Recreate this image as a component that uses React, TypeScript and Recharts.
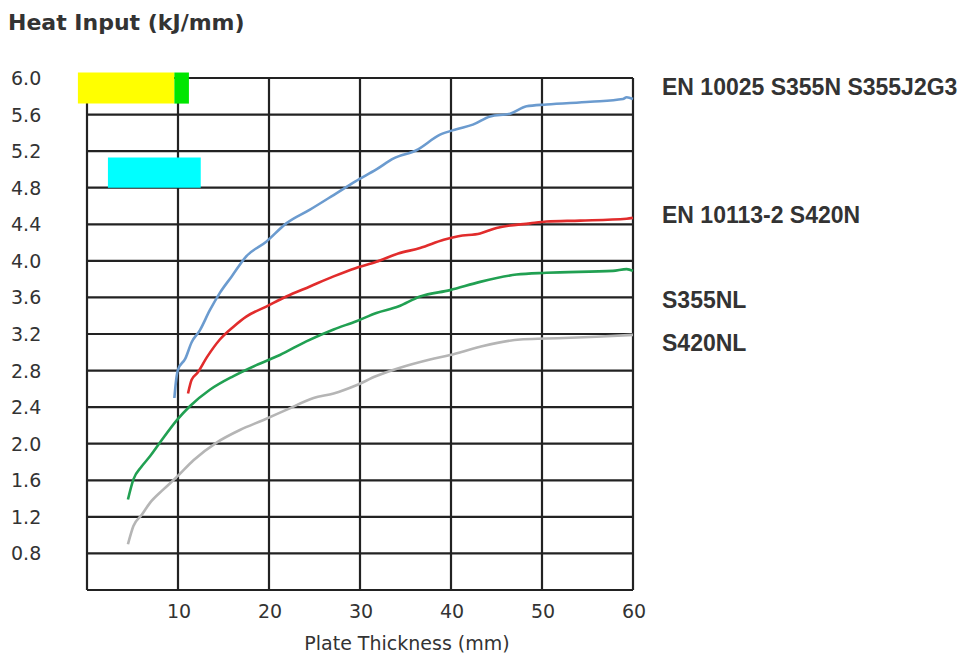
import { LineChart, Line, XAxis, YAxis, CartesianGrid, ReferenceArea } from 'recharts';

// plate thickness (mm) / heat input (kJ/mm)
const s355nThickness = [9.6, 9.8, 10.0, 10.8, 11.5, 12.4, 13.5, 14.6, 15.9, 17.5, 19.7, 21.9, 24.5, 27.1, 29.5, 31.8, 33.7, 36.2, 38.8, 40.6, 42.4, 44.3, 46.5, 48.3, 50.5, 55.3, 58.9, 59.3, 60];
const s355nHeat = [2.5, 2.7, 2.81, 2.93, 3.11, 3.24, 3.46, 3.65, 3.83, 4.05, 4.21, 4.41, 4.56, 4.72, 4.87, 5.0, 5.12, 5.21, 5.38, 5.44, 5.49, 5.58, 5.61, 5.69, 5.71, 5.74, 5.77, 5.79, 5.77];

const s420nThickness = [11.1, 11.5, 12.1, 13.2, 14.6, 16.1, 17.5, 19.7, 21.9, 24.5, 27.1, 29.5, 31.8, 34.2, 36.6, 39.2, 40.8, 43.2, 45.0, 48.7, 50.5, 54.2, 59.3, 60];
const s420nHeat = [2.55, 2.7, 2.77, 2.95, 3.14, 3.28, 3.39, 3.5, 3.61, 3.72, 3.83, 3.92, 3.99, 4.08, 4.14, 4.23, 4.27, 4.3, 4.36, 4.41, 4.43, 4.44, 4.46, 4.47];

const s355nlThickness = [4.5, 5.1, 6.0, 6.9, 8.0, 9.9, 11.3, 13.5, 16.1, 18.6, 21.2, 24.1, 27.1, 29.6, 31.8, 34.2, 36.6, 39.9, 43.2, 47.2, 50.5, 57.8, 59.3, 60];
const s355nlHeat = [1.39, 1.61, 1.75, 1.86, 2.01, 2.26, 2.41, 2.59, 2.74, 2.86, 2.97, 3.12, 3.25, 3.34, 3.43, 3.5, 3.61, 3.68, 3.77, 3.85, 3.87, 3.89, 3.91, 3.89];

const s420nlThickness = [4.5, 5.1, 6.0, 6.9, 8.4, 9.9, 11.7, 14.2, 16.8, 19.4, 21.9, 24.9, 27.1, 29.6, 31.8, 34.4, 37.7, 39.9, 43.2, 47.6, 50.5, 56.0, 60];
const s420nlHeat = [0.9, 1.1, 1.22, 1.35, 1.5, 1.64, 1.82, 2.01, 2.15, 2.26, 2.37, 2.5, 2.55, 2.64, 2.74, 2.83, 2.92, 2.97, 3.06, 3.14, 3.15, 3.17, 3.19];

const xTicks = [0, 10, 20, 30, 40, 50, 60];
const yTicks = [0.4, 0.8, 1.2, 1.6, 2.0, 2.4, 2.8, 3.2, 3.6, 4.0, 4.4, 4.8, 5.2, 5.6, 6.0];

const seriesNames = ['EN 10025 S355N S355J2G3', 'EN 10113-2 S420N', 'S355NL', 'S420NL'];

// coloured blocks in the upper left corner
const blocks = [
  { x1: -1.0, x2: 9.6, y1: 5.72, y2: 6.06, fill: '#ffff00' },
  { x1: 9.6, x2: 11.2, y1: 5.72, y2: 6.06, fill: '#00e600' },
  { x1: 2.3, x2: 12.5, y1: 4.8, y2: 5.13, fill: '#00ffff' },
];

const zip = (xs: number[], ys: number[]) => xs.map((x, i) => ({ x, y: ys[i] }));

const series = [
  { name: seriesNames[0], color: '#6b9bcf', data: zip(s355nThickness, s355nHeat) },
  { name: seriesNames[1], color: '#e12c2c', data: zip(s420nThickness, s420nHeat) },
  { name: seriesNames[2], color: '#21a052', data: zip(s355nlThickness, s355nlHeat) },
  { name: seriesNames[3], color: '#b5b5b5', data: zip(s420nlThickness, s420nlHeat) },
];

const labelBaselines = [95, 223, 308, 351];

const textColor = '#333';
const tickFont = '"DejaVu Sans", Verdana, sans-serif';

const YTick = (props: any) => {
  const { y, payload } = props;
  if (payload.value < 0.5) return <g />;
  return (
    <text x={11} y={y + 7} fill={textColor} fontSize={19} fontFamily={tickFont} textAnchor="start">
      {payload.value.toFixed(1)}
    </text>
  );
};

const XTick = (props: any) => {
  const { x, y, payload } = props;
  if (payload.value === 0) return <g />;
  return (
    <text x={x + 1} y={y + 26} fill={textColor} fontSize={19} fontFamily={tickFont} textAnchor="middle">
      {payload.value}
    </text>
  );
};

export default function App() {
  return (
    <div style={{ position: 'absolute', left: 0, top: 0, width: 966, height: 653, background: '#fff' }}>
      <LineChart width={966} height={653} margin={{ top: 78, right: 333, bottom: 33, left: 10 }}>
        <CartesianGrid stroke="#222" strokeWidth={2.2} />
        <XAxis
          dataKey="x"
          type="number"
          domain={[0, 60]}
          ticks={xTicks}
          height={30}
          axisLine={false}
          tickLine={false}
          tickSize={0}
          tick={<XTick />}
          allowDuplicatedCategory={false}
        />
        <YAxis
          type="number"
          domain={[0.4, 6.0]}
          ticks={yTicks}
          width={77}
          axisLine={false}
          tickLine={false}
          tickSize={0}
          tick={<YTick />}
        />
        {blocks.map((b, i) => (
          <ReferenceArea
            key={i}
            x1={b.x1}
            x2={b.x2}
            y1={b.y1}
            y2={b.y2}
            fill={b.fill}
            fillOpacity={1}
            stroke="none"
            ifOverflow="visible"
          />
        ))}
        {series.map((s) => (
          <Line
            key={s.name}
            data={s.data}
            dataKey="y"
            name={s.name}
            type="monotone"
            stroke={s.color}
            strokeWidth={2.6}
            dot={false}
            isAnimationActive={false}
          />
        ))}
      </LineChart>
      <svg width={966} height={653} style={{ position: 'absolute', left: 0, top: 0, pointerEvents: 'none' }}>
        <text x={8} y={30} fill={textColor} fontSize={22} fontWeight="bold" fontFamily={tickFont}>
          Heat Input (kJ/mm)
        </text>
        {seriesNames.map((n, i) => (
          <text
            key={n}
            x={662}
            y={labelBaselines[i]}
            fill={textColor}
            fontSize={23}
            fontWeight="bold"
            fontFamily='"Liberation Sans", Arial, sans-serif'
          >
            {n}
          </text>
        ))}
        <text x={407} y={650} fill={textColor} fontSize={19} fontFamily={tickFont} textAnchor="middle">
          Plate Thickness (mm)
        </text>
      </svg>
    </div>
  );
}
